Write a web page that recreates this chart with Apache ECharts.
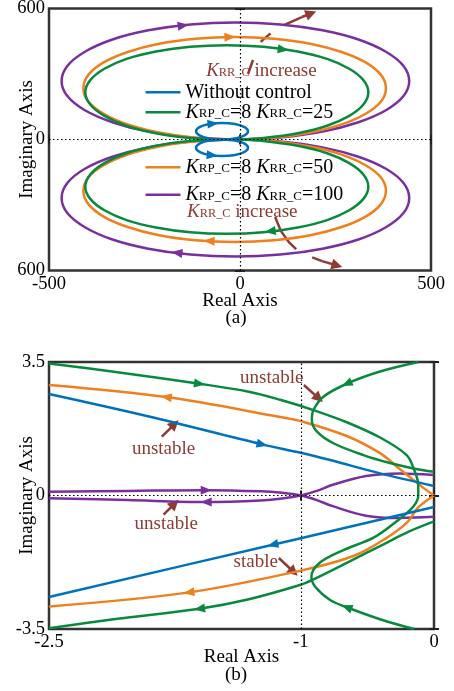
<!DOCTYPE html>
<html>
<head>
<meta charset="utf-8">
<script src="https://cdn.jsdelivr.net/npm/echarts@6/dist/echarts.min.js"></script>
<style>
  html, body { margin: 0; padding: 0; background: #fff; }
  #chart { width: 454px; height: 691px; }
</style>
</head>
<body>
<div id="chart"></div>
<script>
// ---------------------------------------------------------------
// Nyquist plots of the loop gain, with and without the controller.
// Points are [Re, Im].
// ---------------------------------------------------------------

// Panel (a): upper loop of each curve; the lower loop is its conjugate.
const loopWithout = [[-47,0],[-81,5],[-106,19],[-115,38],[-106,57],[-81,71],[-47,76],[-13,71],[12,57],[21,38],[12,19],[-13,5],[-47,0]];
const loopK25  = [[0,0],[-130,7],[-220,29],[-297,63],[-355,108],[-392,160],[-405,216],[-392,272],[-355,324],[-297,369],[-220,403],[-130,425],[-35,432],[61,425],[151,403],[228,369],[286,324],[323,272],[336,216],[323,160],[286,108],[228,63],[151,29],[61,7],[0,0]];
const loopK50  = [[0,0],[-117,8],[-212,32],[-294,69],[-357,118],[-397,174],[-410,235],[-397,296],[-357,353],[-294,401],[-212,439],[-117,462],[-14,470],[89,462],[184,439],[266,401],[329,353],[369,296],[382,235],[369,174],[329,118],[266,69],[184,32],[89,8],[0,0]];
const loopK100 = [[0,0],[-130,9],[-240,36],[-334,79],[-406,134],[-452,199],[-467,268],[-452,337],[-406,402],[-334,458],[-240,500],[-130,527],[-12,536],[106,527],[216,500],[310,458],[382,402],[428,337],[443,268],[428,199],[382,134],[310,79],[216,36],[106,9],[0,0]];

// Panel (b): close-up around the critical point (-1, j0).
const withoutUpperB = [[-2.89,2.66],[-2.14,2.07],[-1.29,1.34],[-1.0,1.12],[-0.78,0.93],[-0.405,0.58],[0,0.25]];
const withoutLowerB = [[-2.89,-2.66],[-1.21,-1.29],[-1.0,-1.12],[0,-0.3]];
const k50UpperB = [[-2.89,2.9],[-2.01,2.58],[-1.155,2.06],[-1.0,1.95],[-0.655,1.56],[-0.405,1.11],[-0.28,0.76],[-0.17,0.45],[-0.08,0.2],[0,0]];
const k50LowerB = [[-2.89,-2.91],[-1.84,-2.54],[-1.0,-1.97],[-0.6,-1.58],[-0.35,-1.1],[-0.2,-0.7],[-0.12,-0.32],[0,0]];
const k100CrossB1 = [[-2.89,0.1],[-2.3,0.12],[-1.71,0.14],[-1.3,0.11],[-1.14,0.07],[-1.0,0],[-0.88,-0.12],[-0.76,-0.28],[-0.51,-0.53],[-0.26,-0.59],[0,-0.56]];
const k100CrossB2 = [[-2.89,-0.07],[-2.3,-0.12],[-1.71,-0.17],[-1.3,-0.13],[-1.14,-0.08],[-1.0,0],[-0.88,0.12],[-0.76,0.28],[-0.51,0.51],[-0.26,0.58],[0,0.54]];
const k25OuterB = [[-2.89,3.46],[-2.39,3.24],[-1.76,2.93],[-1.39,2.72],[-1.155,2.51],[-0.905,2.24],[-0.655,1.92],[-0.405,1.52],[-0.205,1.06],[-0.15,0.68],[-0.12,0.33],[-0.118,0],[-0.155,-0.29],[-0.26,-0.62],[-0.45,-1.1],[-0.68,-1.43],[-0.86,-1.77],[-0.92,-2.13],[-0.89,-2.4],[-0.78,-2.74],[-0.655,-2.93],[-0.4,-3.25],[-0.15,-3.5]];
const k25BranchB = [[-0.118,3.5],[-0.405,3.25],[-0.655,2.93],[-0.83,2.59],[-0.905,2.24],[-0.917,1.98],[-0.88,1.68],[-0.755,1.37],[-0.53,1.06],[-0.33,0.85],[-0.155,0.71],[0,0.62]];
const k25LowerB = [[-2.89,-3.48],[-2.39,-3.24],[-1.76,-2.97],[-1.39,-2.72],[-1.0,-2.34],[-0.905,-2.2],[-0.64,-1.74],[-0.39,-1.3],[-0.19,-0.95],[0,-0.68]];

// Axis ticks and their printed labels.
const ticksAx = [-500, 0, 500];      const labelsAx = ['-500', '0', '500'];
const ticksAy = [-600, 0, 600];      const labelsAy = ['600', '0', '600'];
const ticksBx = [-2.89, -1, 0];      const labelsBx = ['-2.5', '-1', '0'];
const ticksBy = [-3.5, 0, 3.5];      const labelsBy = ['-3.5', '0', '3.5'];

// Direction arrows: [curve, fractional index, +1 along data order / -1 against].
const arrowsA = {
  without: [['top', 5.3, 1], ['bottom', 5.24, 1]],
  k25:     [['top', 13.58, 1], ['bottom', 13.2, -1]],
  k50:     [['top', 11.88, 1], ['bottom', 11.35, -1]],
  k100:    [['top', 10.83, 1], ['bottom', 10.68, -1]]
};
const arrowsB = {
  without: [[withoutUpperB, 2, 1], [withoutLowerB, 1, -1]],
  k25:     [[k25OuterB, 2, 1], [k25OuterB, 20, -1], [k25BranchB, 2, 1], [k25LowerB, 2, -1]],
  k50:     [[k50UpperB, 1, -1], [k50LowerB, 1, -1]],
  k100:    [[k100CrossB1, 2, 1], [k100CrossB2, 2, -1]]
};

// Annotations (data coordinates of each panel).
const notesA = [
  { at: [56, 314],  text: '{i|K}{s|RR_C}{t| increase}' },
  { at: [6, -332],  text: '{i|K}{s|RR_C}{t| increase}' }
];
const notesB = [
  { at: [-1.218, 3.09], text: '{t|unstable}' },
  { at: [-2.03, 1.21],  text: '{t|unstable}' },
  { at: [-2.01, -0.75], text: '{t|unstable}' },
  { at: [-1.338, -1.756], text: '{t|stable}' }
];
// Curved "increase" pointers in panel (a): plain pieces, then the headed piece.
const pointerPiecesA = [
  [[21, 300], [34, 364]],
  [[54, 447], [80, 486]],
  [[115, 524], [162, 561]],
  [[92, -355], [107, -419], [128, -470], [147, -502]],
  [[189, -540], [215, -557]]
];
const pointerHeadsA = [
  [[162, 561], [186, 577]],
  [[215, -557], [254, -577]]
];
const pointerHeadsB = [
  [[-0.977, 2.896], [-0.865, 2.548]],
  [[-2.043, 1.541], [-1.947, 1.874]],
  [[-2.03, -0.503], [-1.947, -0.215]],
  [[-1.165, -1.638], [-1.053, -2.005]]
];

const FONT = "'Liberation Serif', 'Times New Roman', serif";
const BROWN = '#8E3B34';
const CURVES = {
  without: { name: 'Without control',      color: '#0072BD', legend: '{t|Without control}' },
  k25:     { name: 'K_RP_C=8 K_RR_C=25',  color: '#088A3E', legend: '{i|K}{s|RP_C}{t|=8 }{i|K}{s|RR_C}{t|=25}' },
  k50:     { name: 'K_RP_C=8 K_RR_C=50',  color: '#F07F1E', legend: '{i|K}{s|RP_C}{t|=8 }{i|K}{s|RR_C}{t|=50}' },
  k100:    { name: 'K_RP_C=8 K_RR_C=100', color: '#7A2F9E', legend: '{i|K}{s|RP_C}{t|=8 }{i|K}{s|RR_C}{t|=100}' }
};
const loopsA = { without: loopWithout, k25: loopK25, k50: loopK50, k100: loopK100 };
const pathsB = {
  k100: [k100CrossB1, k100CrossB2],
  k50: [k50UpperB, k50LowerB],
  k25: [k25OuterB, k25BranchB, k25LowerB],
  without: [withoutUpperB, withoutLowerB]
};
const DRAW_ORDER = ['k100', 'k50', 'k25', 'without'];

const conj = pts => pts.map(([re, im]) => [re, -im]);

function richFor(color, size) {
  return {
    t: { fontFamily: FONT, fontSize: size, color, lineHeight: 16 },
    i: { fontFamily: FONT, fontSize: size, color, lineHeight: 16, fontStyle: 'italic' },
    s: { fontFamily: FONT, fontSize: size * 0.65, color, lineHeight: 6, verticalAlign: 'bottom' }
  };
}

function nearest(ticks, v) {
  let best = 0;
  ticks.forEach((t, i) => { if (Math.abs(t - v) < Math.abs(ticks[best] - v)) best = i; });
  return best;
}

function axis(gridIndex, position, min, max, ticks, labels, name, nameGap) {
  const a = {
    type: 'value', gridIndex, position, min, max,
    axisLine: { show: false },
    splitLine: { show: false },
    axisTick: { show: true, inside: true, length: 5, customValues: ticks,
                lineStyle: { color: '#222', width: 2 } },
    axisLabel: { show: !!labels, customValues: ticks, margin: 4,
                 fontFamily: FONT, fontSize: 18.5, color: '#000',
                 formatter: v => labels ? labels[nearest(ticks, v)] : '' }
  };
  if (name) {
    a.name = name;
    a.nameLocation = 'middle';
    a.nameGap = nameGap;
    a.nameMoveOverlap = false;
    a.nameTextStyle = { fontFamily: FONT, fontSize: 19, color: '#000' };
  }
  return a;
}

const series = [];

// Reference lines and annotation text, one carrier series per panel.
function notesSeries(grid, notes, refLines) {
  return {
    type: 'scatter', xAxisIndex: grid * 2, yAxisIndex: grid * 2, silent: true, z: 1,
    symbol: 'circle', symbolSize: 1, itemStyle: { color: 'rgba(0,0,0,0)' },
    label: { show: true, position: 'inside', opacity: 1, rich: richFor(BROWN, 19) },
    data: notes.map(n => ({ value: n.at, label: { formatter: n.text } })),
    markLine: {
      silent: true, symbol: ['none', 'none'], label: { show: false }, animation: false,
      lineStyle: { color: '#000', width: 1.2, type: [1.5, 2.5] },
      data: refLines
    }
  };
}
series.push(notesSeries(0, notesA, [{ xAxis: 0 }, { yAxis: 0 }]));
series.push(notesSeries(1, notesB, [{ xAxis: -1 }, { yAxis: 0 }]));

function pointerSeries(grid, pieces, head) {
  return {
    type: 'lines', coordinateSystem: 'cartesian2d', xAxisIndex: grid * 2, yAxisIndex: grid * 2,
    polyline: !head, silent: true, z: 1,
    symbol: head ? ['none', 'triangle'] : ['none', 'none'], symbolSize: 11,
    lineStyle: { color: BROWN, width: 2.5, opacity: 1, curveness: 0 },
    data: pieces.map(p => ({ coords: p }))
  };
}
series.push(pointerSeries(0, pointerPiecesA, false));
series.push(pointerSeries(0, pointerHeadsA, true));
series.push(pointerSeries(1, pointerHeadsB, true));

function curveSeries(key, grid, pts) {
  const c = CURVES[key];
  return {
    type: 'line', name: c.name, xAxisIndex: grid * 2, yAxisIndex: grid * 2,
    data: pts, showSymbol: false, symbol: 'none', smooth: 0.35, z: 3,
    lineStyle: { color: c.color, width: 2.5 }, itemStyle: { color: c.color },
    emphasis: { disabled: true }
  };
}
DRAW_ORDER.forEach(key => {
  series.push(curveSeries(key, 0, loopsA[key]));
  series.push(curveSeries(key, 0, conj(loopsA[key])));
  pathsB[key].forEach(p => series.push(curveSeries(key, 1, p)));
});
DRAW_ORDER.forEach(key => {
  [0, 1].forEach(grid => series.push({
    id: 'arrow-' + grid + '-' + key, type: 'scatter', name: CURVES[key].name,
    xAxisIndex: grid * 2, yAxisIndex: grid * 2, silent: true, z: 4,
    symbol: 'triangle', symbolSize: [9, 11],
    itemStyle: { color: CURVES[key].color, opacity: 1 }, data: []
  }));
});

function legendBlock(keys, top, gap) {
  return {
    data: keys.map(k => CURVES[k].name), orient: 'vertical', left: 145.5, top,
    padding: 0, itemGap: gap, itemWidth: 35, itemHeight: 2.5, icon: 'rect',
    selectedMode: false, textStyle: { rich: richFor('#000', 20) },
    formatter: name => Object.values(CURVES).find(c => c.name === name).legend
  };
}

const gridBase = { show: true, borderColor: '#333', borderWidth: 2.5, outerBoundsMode: 'none', containLabel: false };
const option = {
  animation: false,
  backgroundColor: '#fff',
  grid: [
    Object.assign({ left: 49, top: 8.5, width: 382, height: 262 }, gridBase),
    Object.assign({ left: 49, top: 362, width: 385, height: 267 }, gridBase)
  ],
  xAxis: [
    axis(0, 'bottom', -500, 500, ticksAx, labelsAx, 'Real Axis', 21),
    axis(0, 'top', -500, 500, ticksAx, null),
    axis(1, 'bottom', -2.89, 0, ticksBx, labelsBx, 'Real Axis', 18.5),
    axis(1, 'top', -2.89, 0, ticksBx, null)
  ],
  yAxis: [
    axis(0, 'left', -600, 600, ticksAy, labelsAy, 'Imaginary Axis', 12),
    axis(0, 'right', -600, 600, ticksAy, null),
    axis(1, 'left', -3.5, 3.5, ticksBy, labelsBy, 'Imaginary Axis', 12),
    axis(1, 'right', -3.5, 3.5, ticksBy, null)
  ],
  legend: [
    legendBlock(['without', 'k25'], 82.3, 0),
    legendBlock(['k50', 'k100'], 157.3, 7.4)
  ],
  graphic: [
    { type: 'text', x: 236, y: 318, style: { text: '(a)', font: '19px ' + FONT, fill: '#000', textAlign: 'center', textVerticalAlign: 'middle' } },
    { type: 'text', x: 236, y: 675, style: { text: '(b)', font: '19px ' + FONT, fill: '#000', textAlign: 'center', textVerticalAlign: 'middle' } }
  ],
  series
};

const chart = echarts.init(document.getElementById('chart'), null, { renderer: 'canvas' });
chart.setOption(option);

// Orient each arrowhead along its curve in screen space.
function arrowAt(grid, pts, idx, dir) {
  const i0 = Math.floor(idx), t = idx - i0;
  let pos, from, to;
  if (t > 0) {
    const a = pts[i0], b = pts[i0 + 1];
    pos = [a[0] + (b[0] - a[0]) * t, a[1] + (b[1] - a[1]) * t];
    from = a; to = b;
  } else {
    pos = pts[i0];
    from = pts[Math.max(i0 - 1, 0)];
    to = pts[Math.min(i0 + 1, pts.length - 1)];
  }
  const p1 = chart.convertToPixel({ gridIndex: grid }, from);
  const p2 = chart.convertToPixel({ gridIndex: grid }, to);
  let deg = Math.atan2(p1[1] - p2[1], p2[0] - p1[0]) * 180 / Math.PI;
  if (dir < 0) deg += 180;
  return { value: pos, symbolRotate: deg - 90 };
}

const arrowUpdates = [];
DRAW_ORDER.forEach(key => {
  const loop = loopsA[key];
  arrowUpdates.push({
    id: 'arrow-0-' + key,
    data: arrowsA[key].map(([half, idx, dir]) => arrowAt(0, half === 'top' ? loop : conj(loop), idx, dir))
  });
  arrowUpdates.push({
    id: 'arrow-1-' + key,
    data: arrowsB[key].map(([pts, idx, dir]) => arrowAt(1, pts, idx, dir))
  });
});
chart.setOption({ series: arrowUpdates });
</script>
</body>
</html>
